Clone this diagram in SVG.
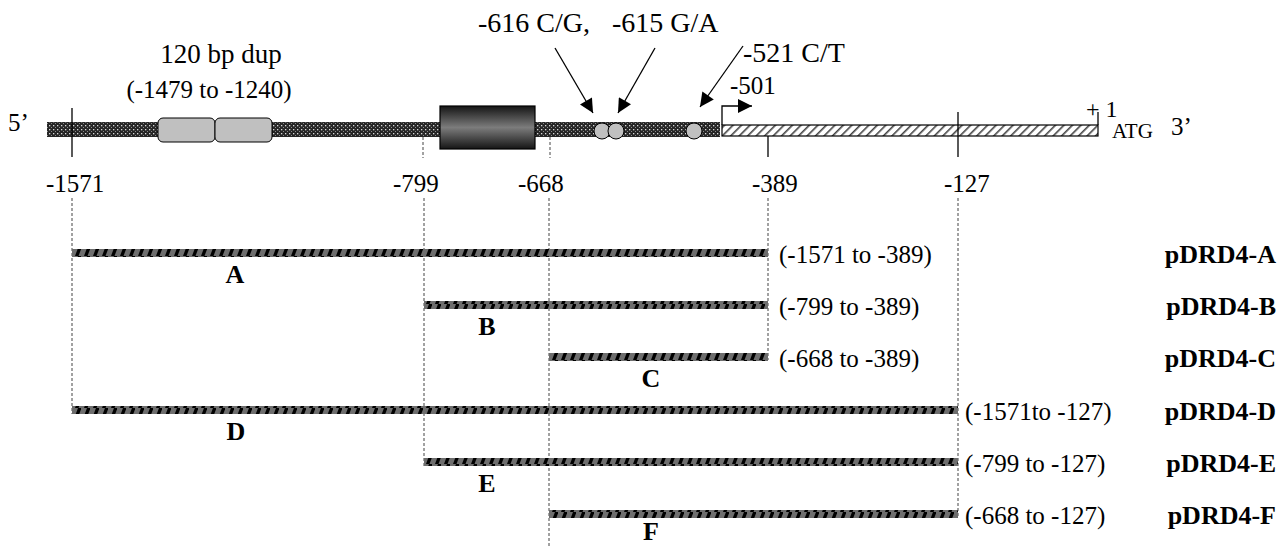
<svg xmlns="http://www.w3.org/2000/svg" width="1284" height="546" viewBox="0 0 1284 546">
<defs>
<pattern id="dots" width="4" height="4" patternUnits="userSpaceOnUse">
<rect width="4" height="4" fill="#262626"/>
<rect x="1" y="1" width="1.3" height="1.3" fill="#d8d8d8"/>
<rect x="3" y="3" width="1" height="1" fill="#8a8a8a"/>
</pattern>
<pattern id="hatch" width="6" height="6" patternUnits="userSpaceOnUse" patternTransform="rotate(45)">
<rect width="6" height="6" fill="#fff"/>
<rect width="1.6" height="6" fill="#444"/>
</pattern>
<pattern id="stripe" width="9" height="8" patternUnits="userSpaceOnUse">
<rect width="9" height="8" fill="#6e6e6e"/>
<polygon points="3,8 6.5,8 9.5,0 6,0" fill="#000"/>
</pattern>
<linearGradient id="box" x1="0" y1="0" x2="0" y2="1">
<stop offset="0" stop-color="#151515"/>
<stop offset="0.5" stop-color="#7c7c7c"/>
<stop offset="1" stop-color="#151515"/>
</linearGradient>
<marker id="ah" viewBox="0 0 10 10" refX="10" refY="5" markerWidth="16" markerHeight="14" markerUnits="userSpaceOnUse" orient="auto">
<path d="M0,0 L10,5 L0,10 z" fill="#000"/>
</marker>
</defs>
<style>
text{font-family:"Liberation Serif","Times New Roman",serif;fill:#000}
.t{font-size:25px}
.L{font-size:28px}
.b{font-size:26px;font-weight:bold}
.bar{fill:url(#stripe)}
.guide{stroke:#444;stroke-width:1;stroke-dasharray:3,2;fill:none}
.tick{stroke:#000;stroke-width:1.3}
.arr{stroke:#000;stroke-width:1.3;fill:none;marker-end:url(#ah)}
</style>

<g id="connectors">
<line class="arr" x1="555" y1="48" x2="593" y2="113"/>
<line class="arr" x1="655" y1="48" x2="618" y2="113"/>
<line class="arr" x1="743" y1="46" x2="700" y2="107"/>
<path d="M722,125 V106 H752" class="arr"/>
<line class="guide" x1="72" y1="198" x2="72" y2="414"/>
<line class="guide" x1="424" y1="198" x2="424" y2="466"/>
<line class="guide" x1="549" y1="198" x2="549" y2="546"/>
<line class="guide" x1="768" y1="198" x2="768" y2="360"/>
<line class="guide" x1="958" y1="198" x2="958" y2="517"/>
</g>

<g id="gene">
<text class="t" x="8" y="131">5’</text>
<rect x="47" y="122" width="673" height="15" fill="url(#dots)"/>
<rect x="722" y="125" width="376" height="11" fill="url(#hatch)" stroke="#000" stroke-width="1.2"/>
<line class="tick" x1="72" y1="108" x2="72" y2="157"/>
<line class="guide" x1="423" y1="137" x2="423" y2="158"/>
<line class="guide" x1="550" y1="137" x2="550" y2="158"/>
<line class="tick" x1="768" y1="136" x2="768" y2="157"/>
<line class="tick" x1="958" y1="112" x2="958" y2="157"/>
<line class="tick" x1="1098" y1="112" x2="1098" y2="125"/>
<text x="1086" y="117" style="font-size:24px">+ 1</text>
<text x="1112" y="138" style="font-size:21px">ATG</text>
<text class="t" x="1171" y="135">3’</text>
<text class="t" x="730" y="94">-501</text>
<text class="t" x="46" y="192">-1571</text>
<text class="t" x="393" y="192">-799</text>
<text class="t" x="518" y="192">-668</text>
<text class="t" x="752" y="192">-389</text>
<text class="t" x="944" y="192">-127</text>
</g>

<g id="dup">
<rect x="158" y="118" width="57" height="24" rx="5" fill="#c0c0c0" stroke="#000" stroke-width="1"/>
<rect x="215" y="118" width="57" height="24" rx="5" fill="#c0c0c0" stroke="#000" stroke-width="1"/>
<text x="221" y="63" text-anchor="middle" style="font-size:27px">120 bp dup</text>
<text class="t" x="209" y="98" text-anchor="middle">(-1479 to -1240)</text>
</g>

<g id="box-element">
<rect x="440" y="106" width="95" height="43" fill="url(#box)" stroke="#000" stroke-width="1.2"/>
</g>

<g id="snps">
<circle cx="602" cy="131" r="8" fill="#c0c0c0" stroke="#000" stroke-width="1"/>
<circle cx="616" cy="131" r="8" fill="#c0c0c0" stroke="#000" stroke-width="1"/>
<circle cx="694" cy="131" r="8" fill="#c0c0c0" stroke="#000" stroke-width="1"/>
<text class="L" x="478" y="32">-616 C/G,</text>
<text class="L" x="612" y="32">-615 G/A</text>
<text class="L" x="743" y="62">-521 C/T</text>
</g>

<g id="pDRD4-A">
<rect class="bar" x="72" y="249" width="696" height="8"/>
<text class="b" x="235" y="283" text-anchor="middle">A</text>
<text class="t" x="779" y="263">(-1571 to -389)</text>
<text class="b" x="1276" y="263" text-anchor="end">pDRD4-A</text>
</g>
<g id="pDRD4-B">
<rect class="bar" x="424" y="301" width="344" height="8"/>
<text class="b" x="487" y="335" text-anchor="middle">B</text>
<text class="t" x="779" y="315">(-799 to -389)</text>
<text class="b" x="1276" y="315" text-anchor="end">pDRD4-B</text>
</g>
<g id="pDRD4-C">
<rect class="bar" x="549" y="353" width="219" height="8"/>
<text class="b" x="651" y="387" text-anchor="middle">C</text>
<text class="t" x="779" y="367">(-668 to -389)</text>
<text class="b" x="1276" y="367" text-anchor="end">pDRD4-C</text>
</g>
<g id="pDRD4-D">
<rect class="bar" x="72" y="406" width="886" height="8"/>
<text class="b" x="236" y="440" text-anchor="middle">D</text>
<text class="t" x="965" y="420">(-1571to -127)</text>
<text class="b" x="1276" y="420" text-anchor="end">pDRD4-D</text>
</g>
<g id="pDRD4-E">
<rect class="bar" x="424" y="458" width="534" height="8"/>
<text class="b" x="487" y="492" text-anchor="middle">E</text>
<text class="t" x="965" y="472">(-799 to -127)</text>
<text class="b" x="1276" y="472" text-anchor="end">pDRD4-E</text>
</g>
<g id="pDRD4-F">
<rect class="bar" x="549" y="510" width="409" height="8"/>
<text class="b" x="651" y="540" text-anchor="middle">F</text>
<text class="t" x="965" y="524">(-668 to -127)</text>
<text class="b" x="1276" y="524" text-anchor="end">pDRD4-F</text>
</g>
</svg>
